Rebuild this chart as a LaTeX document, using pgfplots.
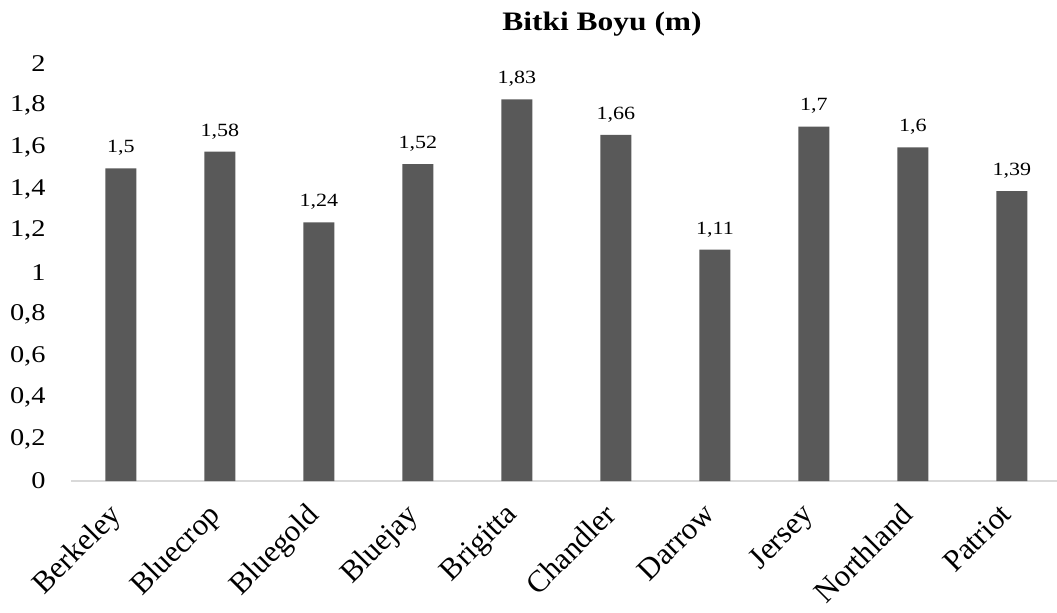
\documentclass[border=0pt]{standalone}
\usepackage{fontspec}
\setmainfont{Liberation Serif}
\usepackage{graphicx}
\usepackage{pgfplots}
\pgfplotsset{compat=1.18}
\definecolor{barfill}{HTML}{595959}
\definecolor{axisgray}{HTML}{D9D9D9}
% the reference text is set a little wider than Times
\newcommand{\wide}[1]{\scalebox{1.18}[1]{#1}}
\begin{document}
\begin{tikzpicture}
\begin{axis}[
  at={(0,0)}, anchor=south west,
  scale only axis,
  width=739.1pt, height=312.75pt,
  ymin=0, ymax=2,
  xmin=-0.5, xmax=9.455,
  ytick={0,0.2,...,2},
  xtick=data,
  xticklabels={Berkeley,Bluecrop,Bluegold,Bluejay,Brigitta,Chandler,Darrow,Jersey,Northland,Patriot},
  axis x line*=bottom,
  axis y line*=left,
  x axis line style={axisgray, line width=0.9pt, -},
  y axis line style={draw=none},
  tick style={draw=none},
  /pgf/number format/.cd, use comma, 1000 sep={}, assume math mode=true,
  /pgfplots/.cd,
  yticklabel={\wide{\pgfmathprintnumber{\tick}}},
  yticklabel style={font=\fontsize{18}{18}\selectfont, xshift=-16pt},
  xticklabel style={font=\fontsize{23}{23}\selectfont, xshift=-10pt, yshift=-11pt, rotate=45, anchor=north east, inner sep=0pt},
  ybar, bar width=23.25pt,
  nodes near coords={\wide{\pgfmathprintnumber{\pgfplotspointmeta}}},
  nodes near coords style={font=\fontsize{14}{14}\selectfont, yshift=6pt},
  clip=false,
]
\addplot[fill=barfill, draw=none] coordinates {
  (0,1.5) (1,1.58) (2,1.24) (3,1.52) (4,1.83) (5,1.66) (6,1.11) (7,1.7) (8,1.6) (9,1.39)
};
\end{axis}
\node[font=\bfseries\fontsize{20}{20}\selectfont, anchor=base] at (397.9pt,338pt) {\wide{Bitki Boyu (m)}};
\pgfresetboundingbox
\useasboundingbox (-53.6pt,-98.25pt) rectangle (739.1pt,360.75pt);
\end{tikzpicture}
\end{document}
